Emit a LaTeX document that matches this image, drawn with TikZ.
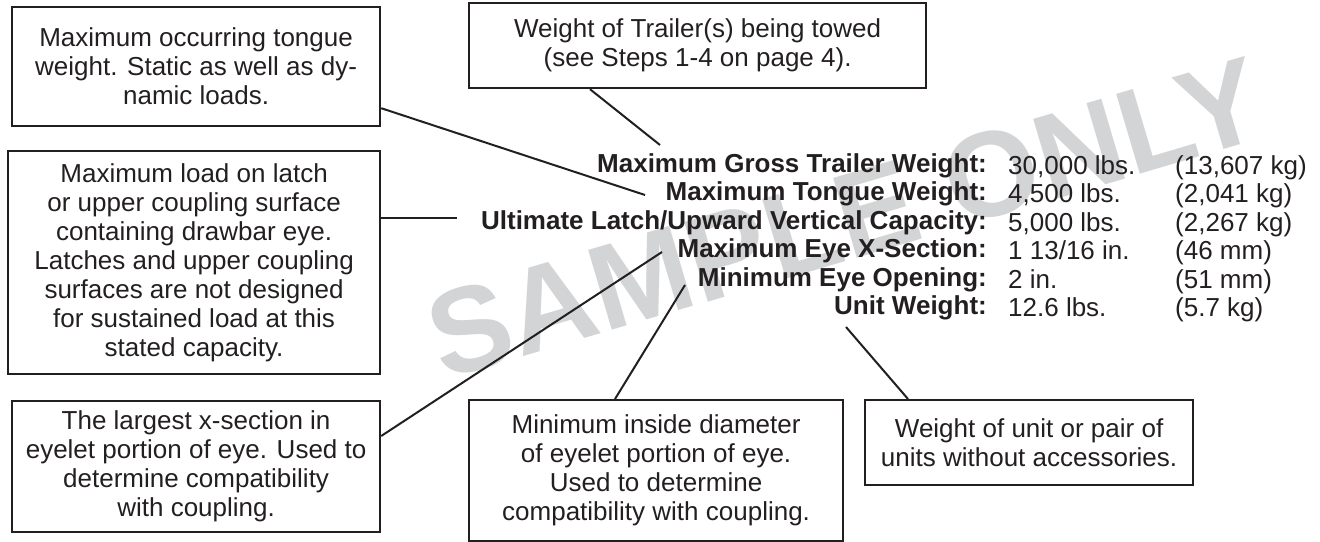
\documentclass[tikz,border=0pt]{standalone}
\usepackage{fontspec}
\setmainfont{Liberation Sans}
\usetikzlibrary{calc}
\definecolor{ink}{RGB}{35,31,32}
\definecolor{wm}{RGB}{211,212,214}
\tikzset{
  note/.style={draw=ink, line width=2.2pt, inner sep=0pt, anchor=north west, align=center,
    font=\fontsize{26}{29}\selectfont, text=ink},
  lead/.style={draw=ink, line width=2pt},
  lbl/.style={anchor=base east, inner sep=0pt, font=\fontsize{26}{29}\selectfont\bfseries, text=ink},
  val/.style={anchor=base west, inner sep=0pt, font=\fontsize{26}{29}\selectfont, text=ink},
}
\begin{document}
\begin{tikzpicture}[x=1pt,y=-1pt]
\useasboundingbox (0,0) rectangle (1320,541);
% watermark
\node[rotate=16.5, text=wm, inner sep=0pt, font=\fontsize{121}{121}\selectfont\bfseries] (wmk) at (845,218) {SAMPLE ONLY};
% boxes
\node[note, minimum width=368pt, minimum height=119pt] (b1) at (11,6)
  {Maximum occurring tongue\\weight. Static as well as dy-\\namic loads.};
\node[note, minimum width=457pt, minimum height=85pt] (b2) at (468,2)
  {Weight of Trailer(s) being towed\\(see Steps 1-4 on page 4).};
\node[note, minimum width=372pt, minimum height=223pt] (b3) at (7,150)
  {Maximum load on latch\\or upper coupling surface\\containing drawbar eye.\\Latches and upper coupling\\surfaces are not designed\\for sustained load at this\\stated capacity.};
\node[note, minimum width=368pt, minimum height=131pt] (b4) at (11,400)
  {The largest x-section in\\eyelet portion of eye. Used to\\determine compatibility\\with coupling.};
\node[note, minimum width=374pt, minimum height=141pt] (b5) at (468,399)
  {Minimum inside diameter\\of eyelet portion of eye.\\Used to determine\\compatibility with coupling.};
\node[note, minimum width=328pt, minimum height=85pt] (b6) at (864,399)
  {Weight of unit or pair of\\units without accessories.};
% table
\node[lbl] (l1) at (987,172) {Maximum Gross Trailer Weight:};
\node[lbl] (l2) at (987,200.5) {Maximum Tongue Weight:};
\node[lbl] (l3) at (987,229) {Ultimate Latch/Upward Vertical Capacity:};
\node[lbl] (l4) at (987,257.5) {Maximum Eye X-Section:};
\node[lbl] (l5) at (987,286) {Minimum Eye Opening:};
\node[lbl] (l6) at (987,314.5) {Unit Weight:};
\node[val] (v1) at (1008,174) {30,000 lbs.};
\node[val] (v2) at (1008,202.5) {4,500 lbs.};
\node[val] (v3) at (1008,231) {5,000 lbs.};
\node[val] (v4) at (1008,259.5) {1 13/16 in.};
\node[val] (v5) at (1008,288) {2 in.};
\node[val] (v6) at (1008,316.5) {12.6 lbs.};
\node[val] (k1) at (1175,174) {(13,607 kg)};
\node[val] (k2) at (1175,202.5) {(2,041 kg)};
\node[val] (k3) at (1175,231) {(2,267 kg)};
\node[val] (k4) at (1175,259.5) {(46 mm)};
\node[val] (k5) at (1175,288) {(51 mm)};
\node[val] (k6) at (1175,316.5) {(5.7 kg)};
% leader end points
\coordinate (t1) at (645,195);
\coordinate (t2) at (660,145);
\coordinate (t3) at (457,218);
\coordinate (t4) at (662,252);
\coordinate (t5) at (685,285);
\coordinate (t6) at (846,327);
\draw[lead] ($(b1.south east)+(0,-19)$) -- (t1);
\draw[lead] ($(b2.south west)+(122,0)$) -- (t2);
\draw[lead] ($(b3.north east)+(0,68)$) -- (t3);
\draw[lead] ($(b4.north east)+(0,36)$) -- (t4);
\draw[lead] ($(b5.north west)+(147,0)$) -- (t5);
\draw[lead] ($(b6.north west)+(44,0)$) -- (t6);
\end{tikzpicture}
\end{document}
